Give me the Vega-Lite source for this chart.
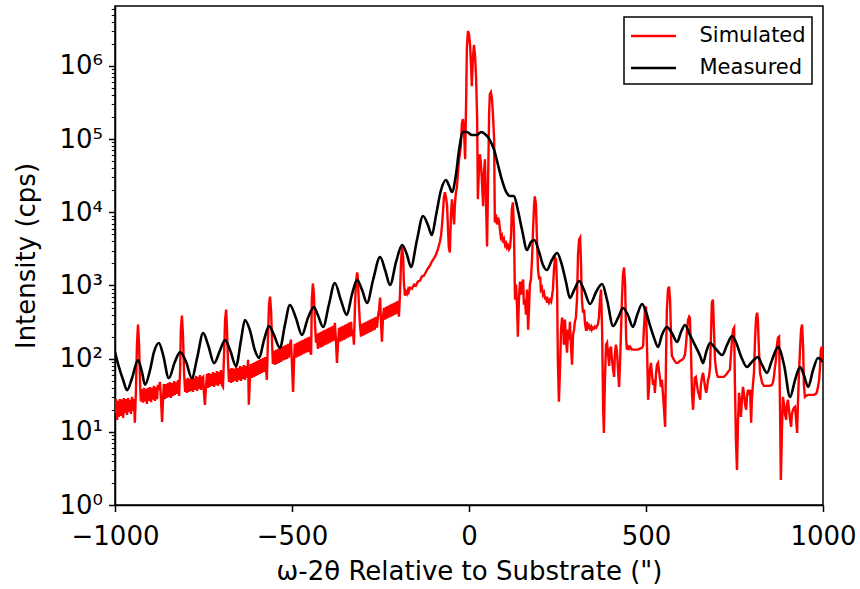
{
"$schema": "https://vega.github.io/schema/vega-lite/v6.json",
"width": 708, "height": 499,
"autosize": {"type": "none"},
"padding": {"left": 115, "top": 6, "right": 37, "bottom": 84},
"background": "white",
"config": {
  "font": "DejaVu Sans",
  "view": {"stroke": "black", "strokeWidth": 1.5},
  "axis": {"grid": false, "domainColor": "black", "domainWidth": 1.5, "tickColor": "black", "tickWidth": 1.5, "tickSize": 6.5, "labelColor": "black", "labelFontSize": 26, "labelFont": "DejaVu Sans", "titleFont": "DejaVu Sans", "titleFontSize": 26, "titleFontWeight": "normal", "titleColor": "black", "labelPadding": 6},
  "legend": {"orient": "top-right", "offset": 11, "padding": 6, "strokeColor": "black", "strokeWidth": 1.5, "fillColor": "white", "cornerRadius": 0, "labelFontSize": 21, "labelFont": "DejaVu Sans", "labelColor": "black", "symbolType": "M-2,0H2", "symbolSize": 506, "symbolStrokeWidth": 2.6, "symbolOffset": 10.5, "labelOffset": 33, "rowPadding": 9}
},
"datasets": {
"sim": [
{"x":-1000,"y":18},{"x":-997,"y":28},{"x":-994,"y":14.5},{"x":-992,"y":26.5},{"x":-989,"y":16},{"x":-986,"y":28},{"x":-983,"y":16.5},{"x":-980,"y":27.5},{"x":-977,"y":15.5},{"x":-975,"y":29},{"x":-972,"y":18},{"x":-969,"y":28},{"x":-966,"y":17},{"x":-963,"y":29},{"x":-960,"y":18.7},{"x":-958,"y":27.3},{"x":-955,"y":17.6},{"x":-952,"y":30},{"x":-949,"y":19.4},{"x":-946,"y":28},{"x":-944,"y":13.3},{"x":-941,"y":34},{"x":-938,"y":155},{"x":-935,"y":292},{"x":-932,"y":155},{"x":-929,"y":43.9},{"x":-927,"y":26},{"x":-924,"y":38.5},{"x":-921,"y":25},{"x":-918,"y":40},{"x":-915,"y":26},{"x":-912,"y":38.5},{"x":-910,"y":24},{"x":-907,"y":40},{"x":-904,"y":26.5},{"x":-901,"y":41},{"x":-898,"y":25.5},{"x":-896,"y":40},{"x":-893,"y":27.5},{"x":-890,"y":42.5},{"x":-887,"y":26.5},{"x":-884,"y":41},{"x":-881,"y":28},{"x":-879,"y":44},{"x":-876,"y":37.5},{"x":-873,"y":48.2},{"x":-870,"y":27.4},{"x":-867,"y":13.7},{"x":-864,"y":30},{"x":-862,"y":45},{"x":-859,"y":28},{"x":-856,"y":45},{"x":-853,"y":29},{"x":-850,"y":46.5},{"x":-848,"y":30},{"x":-845,"y":48},{"x":-842,"y":29},{"x":-839,"y":46.5},{"x":-836,"y":31},{"x":-833,"y":49.5},{"x":-831,"y":32},{"x":-828,"y":48},{"x":-825,"y":33},{"x":-822,"y":51},{"x":-819,"y":31},{"x":-816,"y":70.4},{"x":-814,"y":249},{"x":-811,"y":387},{"x":-808,"y":213},{"x":-805,"y":66.1},{"x":-802,"y":35},{"x":-799,"y":52.8},{"x":-797,"y":34},{"x":-794,"y":54.5},{"x":-791,"y":35},{"x":-788,"y":52.8},{"x":-785,"y":36.3},{"x":-782,"y":56},{"x":-780,"y":35},{"x":-777,"y":54.5},{"x":-774,"y":37.4},{"x":-771,"y":58},{"x":-768,"y":36.3},{"x":-766,"y":56},{"x":-763,"y":38.6},{"x":-760,"y":59.8},{"x":-757,"y":37.4},{"x":-754,"y":54.5},{"x":-751,"y":56.4},{"x":-749,"y":35.2},{"x":-746,"y":23.4},{"x":-743,"y":41},{"x":-740,"y":61.8},{"x":-737,"y":39.9},{"x":-735,"y":63.7},{"x":-732,"y":41},{"x":-729,"y":61.8},{"x":-726,"y":42.4},{"x":-723,"y":65.7},{"x":-720,"y":41},{"x":-718,"y":63.7},{"x":-715,"y":43.8},{"x":-712,"y":67.8},{"x":-709,"y":42.4},{"x":-706,"y":65.7},{"x":-703,"y":45.2},{"x":-701,"y":70},{"x":-698,"y":43.8},{"x":-695,"y":41.2},{"x":-692,"y":113},{"x":-689,"y":341},{"x":-686,"y":467},{"x":-684,"y":292},{"x":-681,"y":96.4},{"x":-678,"y":48},{"x":-675,"y":72.3},{"x":-672,"y":46.6},{"x":-670,"y":74.6},{"x":-667,"y":48},{"x":-664,"y":72.3},{"x":-661,"y":49.6},{"x":-658,"y":77},{"x":-655,"y":48},{"x":-653,"y":74.6},{"x":-650,"y":51.3},{"x":-647,"y":79.4},{"x":-644,"y":49.6},{"x":-641,"y":77},{"x":-638,"y":52.9},{"x":-636,"y":81.9},{"x":-633,"y":51.3},{"x":-630,"y":79.4},{"x":-627,"y":54.6},{"x":-624,"y":96.4},{"x":-622,"y":23.4},{"x":-619,"y":51.3},{"x":-616,"y":84.6},{"x":-613,"y":54.6},{"x":-610,"y":87.3},{"x":-607,"y":56.3},{"x":-605,"y":90.1},{"x":-602,"y":58.2},{"x":-599,"y":93},{"x":-596,"y":60},{"x":-593,"y":95.9},{"x":-590,"y":62},{"x":-588,"y":99},{"x":-585,"y":63.9},{"x":-582,"y":102},{"x":-579,"y":65.9},{"x":-576,"y":105},{"x":-573,"y":70.2},{"x":-571,"y":51.4},{"x":-568,"y":182},{"x":-565,"y":547},{"x":-562,"y":704},{"x":-559,"y":439},{"x":-556,"y":155},{"x":-554,"y":84.8},{"x":-551,"y":128},{"x":-548,"y":82.2},{"x":-545,"y":132.5},{"x":-542,"y":84.8},{"x":-540,"y":136.7},{"x":-537,"y":87.6},{"x":-534,"y":141},{"x":-531,"y":90.6},{"x":-528,"y":145},{"x":-525,"y":94.2},{"x":-523,"y":149.5},{"x":-520,"y":96.8},{"x":-517,"y":155},{"x":-514,"y":99.4},{"x":-511,"y":160},{"x":-509,"y":103},{"x":-506,"y":155},{"x":-503,"y":182},{"x":-500,"y":82.4},{"x":-497,"y":35.2},{"x":-494,"y":96.8},{"x":-492,"y":160},{"x":-489,"y":103},{"x":-486,"y":164},{"x":-483,"y":106.5},{"x":-480,"y":170},{"x":-477,"y":110},{"x":-475,"y":175},{"x":-472,"y":113.5},{"x":-469,"y":181},{"x":-466,"y":117},{"x":-463,"y":187},{"x":-460,"y":120.6},{"x":-458,"y":193},{"x":-455,"y":124},{"x":-452,"y":199},{"x":-449,"y":128.5},{"x":-446,"y":113},{"x":-444,"y":640},{"x":-441,"y":1065},{"x":-438,"y":749},{"x":-435,"y":292},{"x":-432,"y":165},{"x":-429,"y":218},{"x":-427,"y":136},{"x":-424,"y":226},{"x":-421,"y":141},{"x":-418,"y":233},{"x":-415,"y":145},{"x":-412,"y":241},{"x":-410,"y":150},{"x":-407,"y":248},{"x":-404,"y":155},{"x":-401,"y":255},{"x":-398,"y":160},{"x":-396,"y":264},{"x":-393,"y":165},{"x":-390,"y":272},{"x":-387,"y":171},{"x":-384,"y":281},{"x":-381,"y":176},{"x":-379,"y":310},{"x":-376,"y":182},{"x":-373,"y":87.7},{"x":-370,"y":160},{"x":-367,"y":264},{"x":-364,"y":171},{"x":-362,"y":272},{"x":-359,"y":176},{"x":-356,"y":281},{"x":-353,"y":181},{"x":-350,"y":290},{"x":-348,"y":187},{"x":-345,"y":300},{"x":-342,"y":194},{"x":-339,"y":310},{"x":-336,"y":200},{"x":-333,"y":319},{"x":-331,"y":206},{"x":-328,"y":249},{"x":-325,"y":155},{"x":-322,"y":547},{"x":-319,"y":1134},{"x":-316,"y":1505},{"x":-314,"y":1286},{"x":-311,"y":547},{"x":-308,"y":292},{"x":-305,"y":200},{"x":-302,"y":300},{"x":-299,"y":206},{"x":-297,"y":310},{"x":-294,"y":212},{"x":-291,"y":319},{"x":-288,"y":219},{"x":-285,"y":329},{"x":-283,"y":226},{"x":-280,"y":339},{"x":-277,"y":233},{"x":-274,"y":351},{"x":-271,"y":241},{"x":-268,"y":361},{"x":-266,"y":249},{"x":-263,"y":373},{"x":-260,"y":265},{"x":-257,"y":385},{"x":-254,"y":467},{"x":-251,"y":682},{"x":-249,"y":341},{"x":-246,"y":171},{"x":-243,"y":363},{"x":-240,"y":495},{"x":-237,"y":341},{"x":-234,"y":511},{"x":-232,"y":351},{"x":-229,"y":528},{"x":-226,"y":363},{"x":-223,"y":545},{"x":-220,"y":374},{"x":-218,"y":562},{"x":-215,"y":386},{"x":-212,"y":580},{"x":-209,"y":399},{"x":-206,"y":598},{"x":-203,"y":411},{"x":-201,"y":618},{"x":-198,"y":375},{"x":-195,"y":749},{"x":-192,"y":2128},{"x":-189,"y":3412},{"x":-186,"y":2413},{"x":-184,"y":1099},{"x":-181,"y":726},{"x":-178,"y":824},{"x":-175,"y":773},{"x":-172,"y":877},{"x":-170,"y":824},{"x":-167,"y":934},{"x":-161,"y":905},{"x":-155,"y":1032},{"x":-150,"y":995},{"x":-144,"y":1134},{"x":-138,"y":1170},{"x":-133,"y":1327},{"x":-127,"y":1370},{"x":-121,"y":1553},{"x":-116,"y":1707},{"x":-110,"y":1876},{"x":-105,"y":2128},{"x":-99,"y":2339},{"x":-93,"y":2652},{"x":-88,"y":3104},{"x":-82,"y":3993},{"x":-79,"y":4823},{"x":-76,"y":6818},{"x":-73,"y":10990},{"x":-71,"y":16030},{"x":-68,"y":18760},{"x":-65,"y":16030},{"x":-62,"y":12460},{"x":-59,"y":5470},{"x":-57,"y":3306},{"x":-54,"y":2825},{"x":-51,"y":9339},{"x":-48,"y":15050},{"x":-45,"y":9638},{"x":-42,"y":6818},{"x":-40,"y":12460},{"x":-37,"y":18760},{"x":-34,"y":21960},{"x":-31,"y":36330},{"x":-28,"y":53000},{"x":-25,"y":68180},{"x":-23,"y":82350},{"x":-20,"y":165400},{"x":-17,"y":187600},{"x":-14,"y":128600},{"x":-11,"y":53000},{"x":-8,"y":352100},{"x":-6,"y":1762000},{"x":-3,"y":3008000},{"x":0,"y":2737000},{"x":3,"y":1936000},{"x":6,"y":963800},{"x":8,"y":530000},{"x":11,"y":1286000},{"x":14,"y":1936000},{"x":17,"y":1413000},{"x":20,"y":703600},{"x":23,"y":187600},{"x":25,"y":15050},{"x":28,"y":38690},{"x":31,"y":62030},{"x":34,"y":43880},{"x":37,"y":24130},{"x":40,"y":12080},{"x":42,"y":33060},{"x":45,"y":53000},{"x":48,"y":15050},{"x":51,"y":3412},{"x":54,"y":28250},{"x":57,"y":241300},{"x":59,"y":412100},{"x":62,"y":438800},{"x":65,"y":352100},{"x":68,"y":199800},{"x":71,"y":99460},{"x":73,"y":7261},{"x":76,"y":9339},{"x":79,"y":6818},{"x":82,"y":8498},{"x":85,"y":7493},{"x":88,"y":5470},{"x":90,"y":4529},{"x":93,"y":4823},{"x":96,"y":3869},{"x":99,"y":4252},{"x":102,"y":3521},{"x":105,"y":3750},{"x":107,"y":3306},{"x":110,"y":3521},{"x":113,"y":3104},{"x":116,"y":3306},{"x":119,"y":4977},{"x":121,"y":10990},{"x":124,"y":13700},{"x":127,"y":5825},{"x":130,"y":640},{"x":133,"y":1032},{"x":136,"y":467},{"x":138,"y":200},{"x":141,"y":640},{"x":144,"y":1134},{"x":147,"y":749},{"x":150,"y":1032},{"x":153,"y":1208},{"x":155,"y":547},{"x":158,"y":640},{"x":161,"y":399},{"x":164,"y":877},{"x":167,"y":249},{"x":170,"y":547},{"x":172,"y":1032},{"x":175,"y":1208},{"x":178,"y":2266},{"x":181,"y":5825},{"x":184,"y":12860},{"x":186,"y":16540},{"x":189,"y":12860},{"x":192,"y":4252},{"x":195,"y":1654},{"x":198,"y":1208},{"x":201,"y":1327},{"x":203,"y":877},{"x":206,"y":934},{"x":209,"y":749},{"x":212,"y":798},{"x":215,"y":640},{"x":218,"y":704},{"x":220,"y":583},{"x":223,"y":640},{"x":226,"y":583},{"x":229,"y":640},{"x":232,"y":601},{"x":234,"y":682},{"x":237,"y":877},{"x":240,"y":1654},{"x":243,"y":2413},{"x":246,"y":2266},{"x":249,"y":877},{"x":251,"y":96.4},{"x":254,"y":25.7},{"x":257,"y":70.4},{"x":260,"y":249},{"x":263,"y":363},{"x":266,"y":292},{"x":268,"y":155},{"x":271,"y":341},{"x":274,"y":182},{"x":277,"y":121},{"x":280,"y":249},{"x":283,"y":182},{"x":285,"y":320},{"x":288,"y":155},{"x":291,"y":82.4},{"x":294,"y":213},{"x":297,"y":249},{"x":299,"y":320},{"x":302,"y":363},{"x":305,"y":640},{"x":308,"y":2652},{"x":311,"y":4252},{"x":314,"y":4529},{"x":316,"y":2266},{"x":319,"y":640},{"x":322,"y":425},{"x":325,"y":467},{"x":328,"y":292},{"x":331,"y":241},{"x":333,"y":320},{"x":336,"y":265},{"x":339,"y":283},{"x":342,"y":257},{"x":345,"y":274},{"x":347,"y":249},{"x":350,"y":265},{"x":353,"y":257},{"x":356,"y":274},{"x":359,"y":265},{"x":362,"y":283},{"x":364,"y":292},{"x":367,"y":363},{"x":370,"y":640},{"x":373,"y":877},{"x":376,"y":249},{"x":379,"y":20},{"x":381,"y":9.64},{"x":384,"y":51.4},{"x":387,"y":155},{"x":390,"y":165},{"x":393,"y":113},{"x":396,"y":79.8},{"x":398,"y":133},{"x":401,"y":146},{"x":404,"y":96.4},{"x":407,"y":70.4},{"x":410,"y":56.4},{"x":412,"y":113},{"x":415,"y":155},{"x":418,"y":125},{"x":421,"y":70.4},{"x":424,"y":41.2},{"x":427,"y":96.4},{"x":429,"y":200},{"x":432,"y":640},{"x":435,"y":1413},{"x":438,"y":1762},{"x":441,"y":1032},{"x":444,"y":182},{"x":446,"y":133},{"x":449,"y":146},{"x":452,"y":137},{"x":455,"y":146},{"x":460,"y":133},{"x":466,"y":133},{"x":472,"y":133},{"x":477,"y":133},{"x":483,"y":137},{"x":489,"y":141},{"x":492,"y":151},{"x":494,"y":249},{"x":497,"y":467},{"x":500,"y":514},{"x":503,"y":133},{"x":506,"y":27.4},{"x":509,"y":43.9},{"x":511,"y":70.4},{"x":514,"y":87.7},{"x":517,"y":60.1},{"x":520,"y":43.9},{"x":523,"y":51.4},{"x":525,"y":34.1},{"x":528,"y":60.1},{"x":531,"y":82.4},{"x":534,"y":87.7},{"x":537,"y":66.1},{"x":540,"y":51.4},{"x":542,"y":41.2},{"x":545,"y":51.4},{"x":548,"y":32},{"x":551,"y":20},{"x":554,"y":11.7},{"x":557,"y":133},{"x":559,"y":467},{"x":562,"y":877},{"x":565,"y":964},{"x":568,"y":640},{"x":571,"y":182},{"x":573,"y":110},{"x":576,"y":103},{"x":579,"y":96.4},{"x":585,"y":87.7},{"x":590,"y":87.7},{"x":596,"y":93.4},{"x":602,"y":96.4},{"x":607,"y":103},{"x":610,"y":113},{"x":613,"y":155},{"x":616,"y":249},{"x":619,"y":341},{"x":622,"y":375},{"x":624,"y":363},{"x":627,"y":133},{"x":630,"y":32},{"x":633,"y":20},{"x":636,"y":37.5},{"x":638,"y":54.7},{"x":641,"y":56.4},{"x":644,"y":43.9},{"x":647,"y":35.2},{"x":650,"y":32},{"x":653,"y":27.4},{"x":655,"y":43.9},{"x":658,"y":54.7},{"x":661,"y":64},{"x":664,"y":51.4},{"x":667,"y":39.9},{"x":670,"y":34.1},{"x":672,"y":37.5},{"x":675,"y":51.4},{"x":678,"y":56.4},{"x":681,"y":77.3},{"x":684,"y":249},{"x":686,"y":583},{"x":689,"y":640},{"x":692,"y":249},{"x":695,"y":96.4},{"x":698,"y":70.4},{"x":701,"y":60.1},{"x":703,"y":56.4},{"x":709,"y":56.4},{"x":715,"y":56.4},{"x":720,"y":56.4},{"x":726,"y":60.1},{"x":732,"y":66.1},{"x":737,"y":70.4},{"x":740,"y":113},{"x":743,"y":182},{"x":746,"y":249},{"x":749,"y":265},{"x":751,"y":51.4},{"x":754,"y":7.73},{"x":757,"y":3.01},{"x":760,"y":14.6},{"x":763,"y":34.1},{"x":766,"y":23.4},{"x":768,"y":16},{"x":771,"y":27.4},{"x":774,"y":41.2},{"x":777,"y":32},{"x":780,"y":23.4},{"x":783,"y":20},{"x":785,"y":29.2},{"x":788,"y":37.5},{"x":791,"y":32},{"x":794,"y":37.5},{"x":797,"y":13.3},{"x":799,"y":27.4},{"x":802,"y":43.9},{"x":805,"y":64},{"x":808,"y":182},{"x":811,"y":363},{"x":814,"y":425},{"x":816,"y":341},{"x":819,"y":133},{"x":822,"y":64},{"x":825,"y":54.7},{"x":828,"y":46.7},{"x":833,"y":42.5},{"x":839,"y":42.5},{"x":845,"y":42.5},{"x":850,"y":42.5},{"x":856,"y":43.9},{"x":859,"y":48.2},{"x":862,"y":60.1},{"x":864,"y":74.9},{"x":867,"y":96.4},{"x":870,"y":155},{"x":873,"y":194},{"x":876,"y":200},{"x":879,"y":14.6},{"x":881,"y":2.2},{"x":884,"y":10.7},{"x":887,"y":30.1},{"x":890,"y":23.4},{"x":893,"y":17.1},{"x":896,"y":14.6},{"x":898,"y":23.4},{"x":901,"y":27.4},{"x":904,"y":20},{"x":907,"y":14.6},{"x":910,"y":11.7},{"x":912,"y":17.1},{"x":915,"y":20},{"x":918,"y":21.3},{"x":921,"y":22},{"x":924,"y":14.6},{"x":927,"y":9.64},{"x":929,"y":23.4},{"x":932,"y":60.1},{"x":935,"y":133},{"x":938,"y":249},{"x":941,"y":292},{"x":944,"y":133},{"x":946,"y":43.9},{"x":949,"y":30.1},{"x":952,"y":31},{"x":958,"y":32},{"x":963,"y":32},{"x":969,"y":32},{"x":975,"y":32},{"x":980,"y":33.1},{"x":983,"y":35.2},{"x":986,"y":41.2},{"x":989,"y":51.4},{"x":992,"y":82.4},{"x":994,"y":133},{"x":997,"y":146},{"x":1000,"y":87.7}
],
"meas": [
{"x":-1000,"y":123},{"x":-989,"y":77},{"x":-977,"y":51},{"x":-966,"y":37},{"x":-952,"y":54},{"x":-935,"y":96},{"x":-924,"y":66},{"x":-915,"y":44},{"x":-901,"y":70},{"x":-890,"y":123},{"x":-876,"y":164},{"x":-864,"y":112},{"x":-848,"y":54},{"x":-831,"y":90},{"x":-816,"y":123},{"x":-799,"y":90},{"x":-783,"y":54},{"x":-768,"y":102},{"x":-751,"y":224},{"x":-737,"y":154},{"x":-720,"y":87},{"x":-703,"y":131},{"x":-689,"y":180},{"x":-675,"y":131},{"x":-658,"y":79},{"x":-644,"y":180},{"x":-633,"y":338},{"x":-619,"y":246},{"x":-605,"y":131},{"x":-593,"y":102},{"x":-579,"y":180},{"x":-565,"y":279},{"x":-551,"y":211},{"x":-534,"y":140},{"x":-520,"y":288},{"x":-506,"y":541},{"x":-489,"y":360},{"x":-472,"y":211},{"x":-455,"y":360},{"x":-438,"y":508},{"x":-427,"y":395},{"x":-412,"y":271},{"x":-396,"y":541},{"x":-379,"y":1081},{"x":-362,"y":634},{"x":-345,"y":395},{"x":-331,"y":741},{"x":-316,"y":1189},{"x":-302,"y":867},{"x":-288,"y":577},{"x":-271,"y":1189},{"x":-251,"y":2450},{"x":-237,"y":1629},{"x":-223,"y":1016},{"x":-206,"y":2094},{"x":-189,"y":3573},{"x":-175,"y":2612},{"x":-164,"y":1790},{"x":-147,"y":4188},{"x":-130,"y":8913},{"x":-116,"y":6714},{"x":-105,"y":4898},{"x":-93,"y":9190},{"x":-79,"y":20180},{"x":-65,"y":27670},{"x":-57,"y":23610},{"x":-48,"y":18960},{"x":-37,"y":32360},{"x":-28,"y":71120},{"x":-17,"y":125300},{"x":-6,"y":125300},{"x":8,"y":114000},{"x":23,"y":114000},{"x":34,"y":125300},{"x":45,"y":117500},{"x":59,"y":97300},{"x":71,"y":71120},{"x":82,"y":44360},{"x":93,"y":27670},{"x":105,"y":18960},{"x":116,"y":16710},{"x":127,"y":16710},{"x":138,"y":10760},{"x":150,"y":5730},{"x":164,"y":3055},{"x":175,"y":3930},{"x":184,"y":4188},{"x":198,"y":2870},{"x":209,"y":1905},{"x":220,"y":1629},{"x":234,"y":2230},{"x":249,"y":2780},{"x":260,"y":2094},{"x":274,"y":1117},{"x":285,"y":675},{"x":297,"y":867},{"x":311,"y":1151},{"x":325,"y":867},{"x":342,"y":558},{"x":359,"y":815},{"x":376,"y":1047},{"x":390,"y":634},{"x":407,"y":279},{"x":421,"y":360},{"x":435,"y":492},{"x":449,"y":395},{"x":463,"y":271},{"x":475,"y":395},{"x":489,"y":558},{"x":500,"y":434},{"x":511,"y":288},{"x":523,"y":191},{"x":534,"y":144},{"x":545,"y":211},{"x":559,"y":271},{"x":573,"y":224},{"x":588,"y":169},{"x":599,"y":231},{"x":610,"y":288},{"x":624,"y":211},{"x":638,"y":154},{"x":653,"y":109},{"x":661,"y":87},{"x":670,"y":123},{"x":681,"y":164},{"x":695,"y":140},{"x":715,"y":112},{"x":729,"y":154},{"x":743,"y":204},{"x":754,"y":169},{"x":768,"y":109},{"x":785,"y":77},{"x":799,"y":90},{"x":816,"y":105},{"x":828,"y":82},{"x":842,"y":64},{"x":856,"y":96},{"x":873,"y":144},{"x":890,"y":82},{"x":907,"y":30},{"x":921,"y":51},{"x":935,"y":77},{"x":946,"y":60},{"x":958,"y":41},{"x":972,"y":70},{"x":986,"y":102},{"x":1000,"y":90}
]
},
"layer": [
  {
    "data": {"name": "sim"},
    "mark": {"type": "line", "strokeWidth": 2.4, "clip": true},
    "encoding": {
      "x": {"field": "x", "type": "quantitative", "scale": {"domain": [-1000, 1000], "nice": false, "zero": false},
            "axis": {"values": [-1000, -500, 0, 500, 1000], "format": "d", "labelFlush": false, "labelPadding": 12, "title": "ω-2θ Relative to Substrate (\")", "titlePadding": 9}},
      "y": {"field": "y", "type": "quantitative", "scale": {"type": "log", "domain": [1, 6600000], "nice": false},
            "axis": {"orient": "left", "values": [1, 10, 100, 1000, 10000, 100000, 1000000], "labelExpr": "'10' + ['⁰','¹','²','³','⁴','⁵','⁶'][round(log(datum.value)/LN10)]", "title": "Intensity (cps)", "titlePadding": 19}},
      "color": {"datum": "Simulated", "type": "nominal", "scale": {"domain": ["Simulated", "Measured"], "range": ["#ff0000", "#000000"]}, "legend": {"title": null}}
    }
  },
  {
    "data": {"name": "meas"},
    "mark": {"type": "line", "strokeWidth": 2.6, "interpolate": "monotone", "clip": true},
    "encoding": {
      "x": {"field": "x", "type": "quantitative"},
      "y": {"field": "y", "type": "quantitative",
            "axis": {"orient": "left", "values": [2,3,4,5,6,7,8,9,20,30,40,50,60,70,80,90,200,300,400,500,600,700,800,900,2000,3000,4000,5000,6000,7000,8000,9000,20000,30000,40000,50000,60000,70000,80000,90000,200000,300000,400000,500000,600000,700000,800000,900000,2000000,3000000,4000000,5000000,6000000], "labels": false, "domain": false, "title": null, "tickSize": 3.7, "tickWidth": 1.1}},
      "color": {"datum": "Measured", "type": "nominal"}
    }
  }
],
"resolve": {"axis": {"y": "independent"}}
}
